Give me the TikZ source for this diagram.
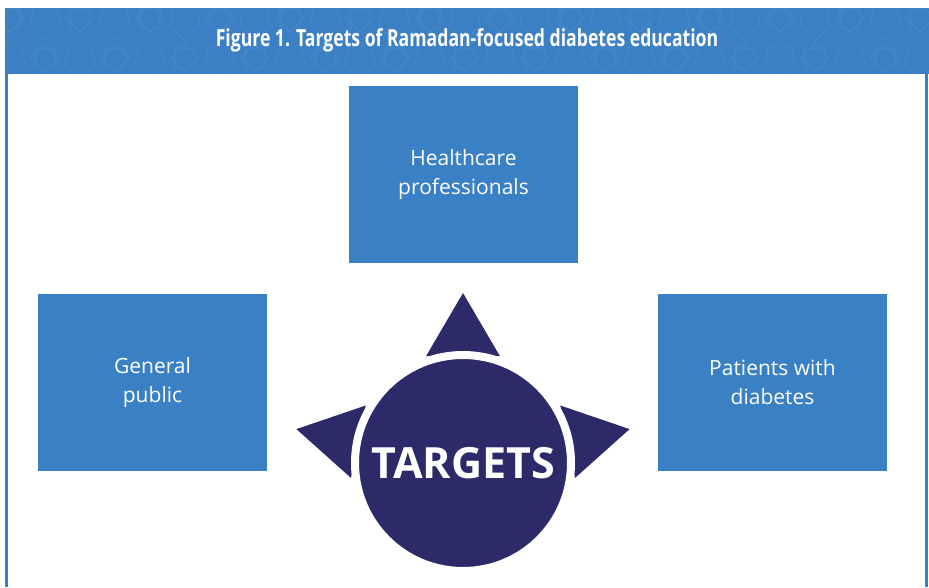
\documentclass[tikz,border=0pt]{standalone}
\usepackage{fontspec}
\setmainfont{Open Sans}
\newfontfamily\titlefont[FakeStretch=0.75]{Open Sans}
\definecolor{hdrblue}{HTML}{3B7FC4}
\definecolor{boxblue}{HTML}{3A80C4}
\definecolor{navy}{HTML}{2D2A69}
\definecolor{ornblue}{HTML}{6A9FD4}
\tikzset{
  target/.style={fill=boxblue, text=white, align=center, inner sep=0pt,
    minimum width=229pt, minimum height=177pt,
    font=\fontsize{21}{29}\selectfont},
  pointer/.style={fill=navy},
  ornament/.style={draw=ornblue, line width=0.8pt, opacity=0.3},
}

\begin{document}
\begin{tikzpicture}[x=1pt,y=-1pt]
\useasboundingbox (0,0) rectangle (929,587);
% header band
\fill[hdrblue] (5,8) rectangle (929,74);
\begin{scope}
\clip (5,8) rectangle (929,74);
\foreach \i in {0,...,13}{
  \foreach \j in {0,1}{
    \draw[ornament, shift={(\i*70+10+\j*35,\j*40+18)}]
      (0:14) -- (90:14) -- (180:14) -- (270:14) -- cycle
      (45:14) -- (135:14) -- (225:14) -- (315:14) -- cycle;
    \draw[ornament, shift={(\i*70+45-\j*35,\j*40+22)}]
      (-11,-16) -- (11,-16) -- (15,3) -- (0,19) -- (-15,3) -- cycle;
  }
}
\end{scope}
\node[text=white, font=\titlefont\bfseries\fontsize{23.5}{26}\selectfont] (title)
  at (467,40) {Figure 1. Targets of Ramadan-focused diabetes education};
% frame
\draw[hdrblue, line width=2.5pt] (6.5,74) -- (6.5,587);
\draw[hdrblue, line width=2.5pt] (926.5,74) -- (926.5,587);
% boxes
\node[target] (hcp) at (463.5,174.5) {Healthcare\\professionals};
\node[target] (pub) at (152.5,382.5) {General\\public};
\node[target] (pwd) at (772.5,382.5) {Patients with\\diabetes};
% pointers and circle
\coordinate (mid) at (463,463);
\foreach \a in {270,191.5,348.5}
  \fill[pointer, shift={(mid)}] (\a:170) -- (\a+19.1:113) -- (\a-19.1:113) -- cycle;
\node[circle, fill=navy, draw=white, line width=8pt, minimum size=216pt,
  text=white, font=\bfseries\fontsize{43}{48}\selectfont] (core) at (mid) {TARGETS};
\end{tikzpicture}
\end{document}
